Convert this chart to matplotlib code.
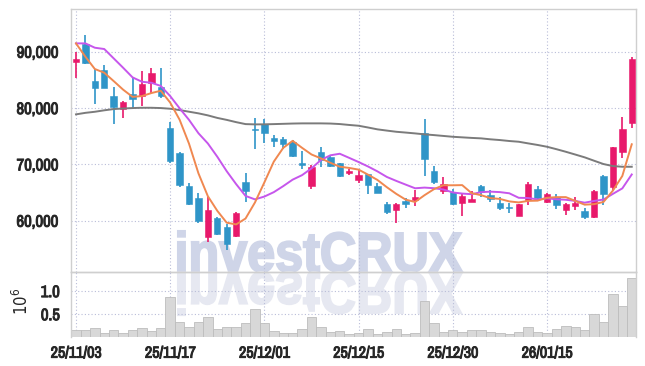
import numpy as np
import matplotlib.pyplot as plt
import matplotlib.patheffects as pe
from matplotlib import font_manager
from matplotlib.textpath import TextPath
from matplotlib.patches import PathPatch
from matplotlib.font_manager import FontProperties
from matplotlib.transforms import Affine2D, IdentityTransform
from matplotlib.ticker import FuncFormatter

# pick a narrow face if one is installed
_names = sorted({f.name for f in font_manager.fontManager.ttflist})
_narrow = [n for n in _names if 'Narrow' in n or 'Condensed' in n]
label_font = _narrow[:1] + ['DejaVu Sans']
plt.rcParams['font.family'] = label_font
plt.rcParams['font.stretch'] = 'condensed'

# ---- data ----
tick_pos = [0, 10, 20, 30, 40, 50]
tick_labels = ['25/11/03', '25/11/17', '25/12/01', '25/12/15', '25/12/30', '26/01/15']

opens = [88250, 91370, 84800, 86750, 82130, 79880, 82490, 82190, 84490, 83680,
         76500, 72060, 66150, 63970, 57040, 60410, 58920, 57320, 66910, 76300,
         77100, 74730, 74550, 74020, 70290, 66200, 72240, 71350, 70180, 68510,
         67220, 68280, 66200, 62900, 61890, 63540, 63660, 75510, 68810, 65310,
         65030, 63080, 63250, 66150, 64550, 63080, 62470, 60870, 63660, 65560,
         63360, 64250, 61890, 62600, 61710, 60700, 67930, 65920, 72240, 77280]
highs = [89900, 92970, 86870, 87640, 83680, 81300, 85560, 86630, 87050, 87050,
         77570, 72240, 66630, 64850, 64250, 60590, 59400, 61590, 68400, 78170,
         77990, 75210, 74900, 74320, 72420, 69880, 73130, 71480, 70200, 69120,
         68990, 68280, 66630, 63360, 63180, 63970, 65440, 77990, 69700, 67690,
         65560, 64850, 65310, 66330, 65440, 64250, 63180, 63040, 66910, 66150,
         64960, 64670, 63070, 64250, 62190, 65440, 68050, 73130, 78460, 89000]
lows = [85300, 87800, 80710, 83500, 77110, 78280, 79950, 80360, 82720, 81720,
        70180, 66030, 62780, 59520, 56260, 57450, 54780, 57040, 63360, 72670,
        73840, 73020, 72670, 71240, 69120, 65560, 69470, 69470, 67800, 68100,
        66630, 64680, 64960, 61180, 59520, 62190, 62600, 67980, 66500, 64730,
        62780, 60820, 63250, 64250, 63360, 61890, 61410, 60870, 62780, 63660,
        63070, 62010, 60990, 61890, 60230, 60520, 62780, 65440, 71060, 76400]
closes = [88650, 87940, 83610, 83610, 80130, 81070, 81550, 84260, 86270, 82190,
          70590, 66330, 62950, 59990, 61890, 57620, 55790, 61410, 65260, 76100,
          75510, 74190, 73610, 71480, 69930, 69580, 70770, 69700, 67980, 68810,
          68100, 66330, 64960, 61530, 62950, 62950, 64250, 70950, 66910, 66450,
          62900, 64370, 63840, 65140, 63790, 62190, 62190, 62950, 66500, 63970,
          64730, 62780, 62950, 63180, 60590, 65210, 64730, 73020, 76220, 88650]
volumes = [0.15, 0.15, 0.20, 0.09, 0.15, 0.09, 0.15, 0.20, 0.14, 0.20,
           0.87, 0.33, 0.22, 0.33, 0.44, 0.17, 0.22, 0.22, 0.31, 0.61,
           0.31, 0.14, 0.10, 0.10, 0.17, 0.44, 0.23, 0.12, 0.14, 0.07,
           0.09, 0.17, 0.07, 0.12, 0.17, 0.07, 0.10, 0.78, 0.31, 0.12,
           0.16, 0.12, 0.16, 0.16, 0.12, 0.09, 0.07, 0.12, 0.22, 0.12,
           0.09, 0.17, 0.25, 0.22, 0.16, 0.50, 0.34, 0.94, 0.68, 1.29]
ma_short = [91480, 89110, 86930, 86270, 84790, 83270, 81990, 82120, 82660, 83070,
            80970, 77930, 73670, 68410, 64350, 61760, 59650, 59340, 60390, 63240,
            66810, 70490, 72930, 74180, 72940, 71760, 71070, 70290, 69590, 69370,
            69070, 68180, 67240, 65950, 64770, 63740, 63330, 64530, 65600, 66300,
            66290, 66320, 64890, 64540, 64010, 63870, 63430, 63250, 63520, 63560,
            64070, 64190, 64190, 63520, 62850, 62940, 63330, 65350, 67950, 73570]
ma_mid = [91480, 91480, 90710, 90480, 88820, 87160, 85450, 84670, 84490, 83930,
          82120, 79960, 77900, 75530, 73710, 71360, 68790, 66500, 64400, 63790,
          64290, 65070, 66140, 67290, 68090, 69290, 70780, 71610, 71890, 71160,
          70420, 69630, 68760, 67770, 67070, 66410, 65760, 65880, 65770, 65540,
          65020, 64820, 64710, 65070, 65160, 65080, 64870, 64070, 64030, 63780,
          63970, 63810, 63720, 63520, 63200, 63510, 63760, 64770, 65740, 68210]
ma_long = [78880, 79150, 79340, 79600, 79820, 79920, 80000, 80050, 80050, 80000,
           79880, 79640, 79350, 79060, 78700, 78250, 77900, 77500, 77150, 77100,
           77110, 77150, 77200, 77250, 77280, 77280, 77280, 77250, 77160, 77000,
           76860, 76550, 76220, 76000, 75790, 75650, 75500, 75330, 75200, 75050,
           74900, 74800, 74700, 74620, 74450, 74320, 74150, 74020, 73730, 73450,
           73130, 72700, 72240, 71750, 71250, 70650, 70060, 69700, 69580, 69580]

up_col = '#e8196b'
dn_col = '#2f95c8'
grid_col = '#b9bdd8'
spine_col = '#cfcfcf'
txt_col = '#262626'
bold_fx = [pe.withStroke(linewidth=0.7, foreground=txt_col)]

W, H = 645, 366
fig = plt.figure(figsize=(W / 100, H / 100), dpi=100)
ax = fig.add_axes([71 / W, 1 - 271.7 / H, (635.7 - 71) / W, (271.7 - 9.3) / H])
axv = fig.add_axes([71 / W, 1 - 337.3 / H, (635.7 - 71) / W, (337.3 - 271.7) / H], sharex=ax)
for a in (ax, axv):
    a.set_facecolor('none')
    for s in a.spines.values():
        s.set_color(spine_col)
        s.set_linewidth(1.0)
    a.tick_params(length=0, colors=txt_col, labelsize=10)
    a.grid(True, color=grid_col, linestyle=(0, (1, 2)), linewidth=0.8)
    a.set_axisbelow(True)
axv.spines['bottom'].set_visible(False)

x = np.arange(len(closes))

# candles
for i in x:
    o, h, l, c = opens[i], highs[i], lows[i], closes[i]
    col = up_col if c >= o else dn_col
    ax.vlines(i, l, h, color=col, linewidth=1.2, zorder=3)
    ax.bar(i, max(abs(c - o), 180), 0.68, bottom=min(o, c), color=col,
           edgecolor=col, linewidth=0.4, zorder=4)

ax.plot(x, ma_long, color='#7b7b7b', linewidth=1.4, zorder=5)
ax.plot(x, ma_mid, color='#c656ec', linewidth=1.4, zorder=5)
ax.plot(x, ma_short, color='#f08850', linewidth=1.4, zorder=5)

ax.set_xlim(-0.53, 59.42)
ax.set_ylim(50950, 97530)
ax.set_yticks([60000, 70000, 80000, 90000])
ax.yaxis.set_major_formatter(FuncFormatter(lambda v, p: f'{v:,.0f}'))
ax.tick_params(axis='x', labelbottom=False)
ax.tick_params(axis='y', pad=9)
for lab in ax.get_yticklabels():
    lab.set_fontsize(12)
    lab.set_path_effects(bold_fx)

# volume
axv.bar(x, volumes, 1.0, color='#d8d8d8', edgecolor='#bdbdbd', linewidth=0.6, zorder=2)
axv.set_ylim(0, 1.42)
axv.set_yticks([0.5, 1.0])
axv.set_yticklabels(['0.5', '1.0'], fontsize=12)
axv.tick_params(axis='y', pad=8)
axv.set_ylabel(r'$10^6$', fontsize=12, color=txt_col)
axv.yaxis.set_label_coords(-0.07, 0.55)
axv.set_xticks(tick_pos)
axv.set_xticklabels(tick_labels, fontsize=11.5)
axv.tick_params(axis='x', pad=6)
for lab in axv.get_yticklabels() + axv.get_xticklabels():
    lab.set_path_effects(bold_fx)

# watermark with reflection
tp = TextPath((0, 0), 'investCRUX', size=100,
              prop=FontProperties(family=['Liberation Sans', 'DejaVu Sans'], weight='bold'))
bb = tp.get_extents()
sx = (462 - 178) / bb.width
sy = 41 / bb.height
top_tr = Affine2D().translate(-bb.x0, -bb.y0).scale(sx, sy).translate(178, H - 272)
bot_tr = Affine2D().translate(-bb.x0, -bb.y0).scale(sx, -sy * 1.05).translate(178, H - 272)
fig.patches.append(PathPatch(top_tr.transform_path(tp), facecolor='#cfd5e8',
                             edgecolor='#cfd5e8', linewidth=1.5,
                             transform=IdentityTransform(), zorder=-1))
fig.patches.append(PathPatch(bot_tr.transform_path(tp), facecolor='#e6e8f1',
                             edgecolor='#e6e8f1', linewidth=1.5,
                             transform=IdentityTransform(), zorder=-1))

fig.savefig('out.png', dpi=100)
